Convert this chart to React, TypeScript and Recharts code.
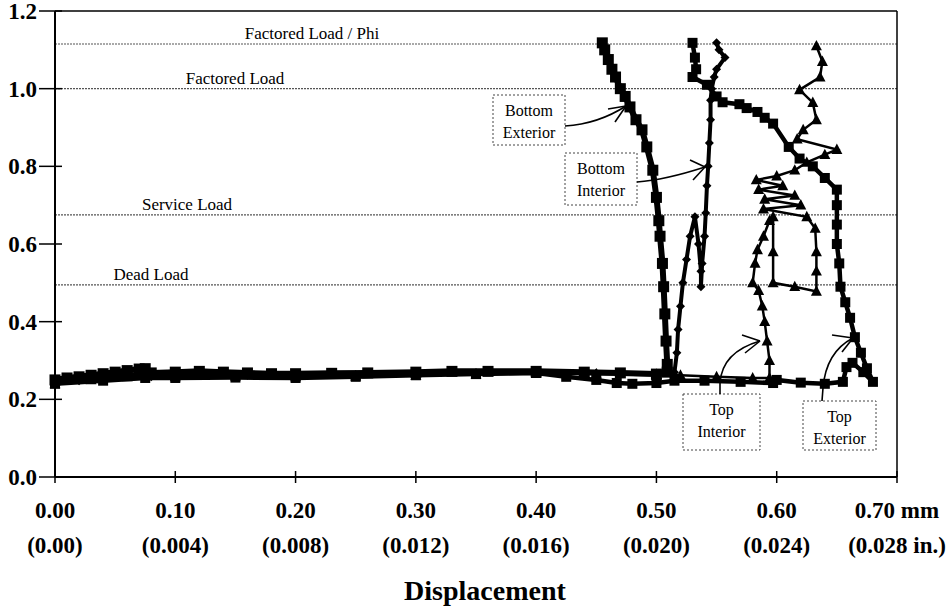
import React from 'react';
import { ScatterChart, Scatter, XAxis, YAxis, ReferenceLine } from 'recharts';

type Pt = [number, number];

// displacement (mm) vs normalised load
const bottomExterior: Pt[] = [
  [0, 0.25], [0.01, 0.255], [0.02, 0.258], [0.03, 0.262], [0.04, 0.266], [0.05, 0.27], [0.06, 0.274],
  [0.07, 0.278], [0.075, 0.279], [0.08, 0.268], [0.1, 0.27], [0.12, 0.272], [0.14, 0.27], [0.16, 0.268],
  [0.18, 0.266], [0.2, 0.266], [0.23, 0.267], [0.26, 0.268], [0.3, 0.27], [0.33, 0.272], [0.36, 0.272],
  [0.4, 0.272], [0.44, 0.27], [0.47, 0.268], [0.5, 0.265], [0.509, 0.27], [0.509, 0.29], [0.508, 0.35],
  [0.507, 0.42], [0.506, 0.49], [0.505, 0.55], [0.503, 0.62], [0.502, 0.66], [0.5, 0.72], [0.497, 0.79],
  [0.492, 0.85], [0.488, 0.894], [0.483, 0.92], [0.478, 0.953], [0.474, 0.98], [0.47, 1.0], [0.466, 1.03],
  [0.463, 1.05], [0.46, 1.075], [0.457, 1.1], [0.455, 1.118],
];

const bottomInterior: Pt[] = [
  [0, 0.242], [0.02, 0.248], [0.04, 0.255], [0.06, 0.262], [0.075, 0.268], [0.08, 0.258], [0.12, 0.262],
  [0.16, 0.262], [0.2, 0.26], [0.25, 0.262], [0.3, 0.265], [0.35, 0.268], [0.4, 0.268], [0.45, 0.268],
  [0.5, 0.268], [0.515, 0.27], [0.517, 0.32], [0.518, 0.38], [0.52, 0.44], [0.522, 0.5], [0.525, 0.56],
  [0.528, 0.62], [0.532, 0.67], [0.535, 0.6], [0.537, 0.53], [0.537, 0.49], [0.538, 0.55], [0.54, 0.62],
  [0.541, 0.68], [0.542, 0.75], [0.543, 0.8], [0.544, 0.86], [0.545, 0.92], [0.545, 0.97], [0.546, 1.0],
  [0.548, 1.03], [0.55, 1.05], [0.557, 1.08], [0.552, 1.1], [0.55, 1.118],
];

const topInterior: Pt[] = [
  [0, 0.24], [0.03, 0.25], [0.06, 0.258], [0.075, 0.262], [0.1, 0.258], [0.15, 0.26], [0.2, 0.258],
  [0.25, 0.26], [0.3, 0.262], [0.35, 0.265], [0.4, 0.266], [0.45, 0.265], [0.5, 0.262], [0.52, 0.262],
  [0.55, 0.258], [0.58, 0.255], [0.594, 0.255], [0.594, 0.3], [0.592, 0.35], [0.59, 0.4], [0.588, 0.44],
  [0.585, 0.48], [0.58, 0.5], [0.582, 0.55], [0.584, 0.585], [0.589, 0.62], [0.594, 0.66], [0.597, 0.67],
  [0.597, 0.58], [0.597, 0.5], [0.615, 0.49], [0.633, 0.478], [0.633, 0.53], [0.633, 0.58], [0.632, 0.64],
  [0.625, 0.67], [0.589, 0.69], [0.62, 0.7], [0.59, 0.715], [0.615, 0.725], [0.585, 0.74], [0.605, 0.75],
  [0.583, 0.765], [0.6, 0.775], [0.615, 0.79], [0.625, 0.81], [0.64, 0.83], [0.65, 0.843], [0.617, 0.87],
  [0.622, 0.894], [0.633, 0.92], [0.63, 0.964], [0.619, 0.997], [0.636, 1.03], [0.638, 1.07], [0.633, 1.11],
];

const topExterior: Pt[] = [
  [0, 0.24], [0.04, 0.248], [0.075, 0.255], [0.1, 0.255], [0.15, 0.256], [0.2, 0.255], [0.25, 0.258],
  [0.3, 0.262], [0.35, 0.265], [0.4, 0.268], [0.425, 0.258], [0.45, 0.25], [0.467, 0.242], [0.48, 0.24],
  [0.5, 0.242], [0.515, 0.248], [0.54, 0.248], [0.57, 0.245], [0.597, 0.242], [0.6, 0.25], [0.62, 0.243],
  [0.64, 0.24], [0.655, 0.245], [0.658, 0.283], [0.663, 0.294], [0.672, 0.27], [0.68, 0.245], [0.675, 0.28],
  [0.67, 0.32], [0.665, 0.36], [0.661, 0.41], [0.657, 0.45], [0.653, 0.49], [0.652, 0.55], [0.65, 0.6],
  [0.65, 0.65], [0.65, 0.7], [0.65, 0.74], [0.64, 0.77], [0.63, 0.8], [0.619, 0.82], [0.61, 0.85],
  [0.597, 0.91], [0.59, 0.925], [0.584, 0.94], [0.575, 0.95], [0.569, 0.96], [0.555, 0.965], [0.55, 0.98],
  [0.542, 1.01], [0.53, 1.03], [0.533, 1.05], [0.532, 1.08], [0.53, 1.118],
];

const xTicks = [0, 0.1, 0.2, 0.3, 0.4, 0.5, 0.6, 0.7];
const xTickMm = ['0.00', '0.10', '0.20', '0.30', '0.40', '0.50', '0.60', '0.70 mm'];
const xTickIn = ['(0.00)', '(0.004)', '(0.008)', '(0.012)', '(0.016)', '(0.020)', '(0.024)', '(0.028 in.)'];
const yTicks = [0, 0.2, 0.4, 0.6, 0.8, 1.0, 1.2];

const loadLevels = [1.115, 1.0, 0.675, 0.495];
const loadNames = ['Factored Load / Phi', 'Factored Load', 'Service Load', 'Dead Load'];

const SERIF = "'Liberation Serif', 'Times New Roman', serif";
const labelCenters = [312, 235, 187, 151];

const toRows = (pts: Pt[]) => pts.map(([x, y]) => ({ x, y }));

function makeMarker(kind: string, s: number) {
  return (props: any) => {
    const { cx, cy } = props;
    if (cx == null || cy == null) return <g />;
    const h = s / 2;
    if (kind === 'square') return <rect x={cx - h} y={cy - h} width={s} height={s} fill="#000" />;
    if (kind === 'diamond')
      return <polygon points={`${cx},${cy - h} ${cx + h},${cy} ${cx},${cy + h} ${cx - h},${cy}`} fill="#000" />;
    return (
      <polygon points={`${cx},${cy - h * 1.1} ${cx + h},${cy + h * 0.8} ${cx - h},${cy + h * 0.8}`} fill="#000" />
    );
  };
}

const XTick = ({ x, y, payload, index }: any) => (
  <g>
    <line x1={x} x2={x} y1={y - 14} y2={y - 2} stroke="#000" strokeWidth={1.5} />
    <text x={x} y={y + 33} textAnchor="middle" fontFamily={SERIF} fontWeight="bold" fontSize={23} fill="#000">
      {xTickMm[index] ?? payload.value}
    </text>
    <text x={x} y={y + 68} textAnchor="middle" fontFamily={SERIF} fontWeight="bold" fontSize={23} fill="#000">
      {xTickIn[index]}
    </text>
  </g>
);

const YTick = ({ x, y, payload }: any) => (
  <g>
    <line x1={x - 8} x2={x + 15} y1={y} y2={y} stroke="#000" strokeWidth={1.5} />
    <text x={x - 10} y={y + 8} textAnchor="end" fontFamily={SERIF} fontWeight="bold" fontSize={23} fill="#000">
      {payload.value.toFixed(1)}
    </text>
  </g>
);

const LoadLabel = ({ viewBox, text, cx }: any) => (
  <text x={cx} y={viewBox.y - 5} textAnchor="middle" fontFamily={SERIF} fontSize={17} fill="#000">
    {text}
  </text>
);

function Arrow({ d, tip, barbs }: { d: string; tip: [number, number]; barbs: [number, number][] }) {
  return (
    <g fill="none" stroke="#000" strokeWidth={1.6}>
      <path d={d} />
      {barbs.map((b, i) => (
        <line key={i} x1={tip[0]} y1={tip[1]} x2={b[0]} y2={b[1]} />
      ))}
    </g>
  );
}

function NoteBox({ x, y, w, h, lines }: { x: number; y: number; w: number; h: number; lines: string[] }) {
  return (
    <g>
      <rect x={x} y={y} width={w} height={h} fill="#fff" stroke="#444" strokeWidth={1} strokeDasharray="2 2" />
      {lines.map((t, i) => (
        <text key={t} x={x + w / 2} y={y + 21 + i * 22} textAnchor="middle" fontFamily={SERIF} fontSize={16} fill="#000">
          {t}
        </text>
      ))}
    </g>
  );
}

export default function App() {
  return (
    <div style={{ position: 'absolute', left: 0, top: 0, width: 946, height: 609, background: '#fff' }}>
      <ScatterChart width={946} height={609} margin={{ top: 11, right: 49, bottom: 0, left: 0 }}>
        <XAxis
          type="number"
          dataKey="x"
          domain={[0, 0.7]}
          ticks={xTicks}
          interval={0}
          height={132}
          axisLine={{ stroke: '#000', strokeWidth: 2 }}
          tickLine={false}
          tick={<XTick />}
        />
        <YAxis
          type="number"
          dataKey="y"
          domain={[0, 1.2]}
          ticks={yTicks}
          interval={0}
          width={55}
          axisLine={{ stroke: '#000', strokeWidth: 2 }}
          tickLine={false}
          tick={<YTick />}
        />
        {loadLevels.map((v, i) => (
          <ReferenceLine
            key={loadNames[i]}
            y={v}
            stroke="#555"
            strokeWidth={1.2}
            strokeDasharray="2 1"
            label={<LoadLabel text={loadNames[i]} cx={labelCenters[i]} />}
          />
        ))}
        <ReferenceLine y={1.2} stroke="#000" strokeWidth={1.5} />
        <ReferenceLine x={0.7} stroke="#000" strokeWidth={1.5} />
        <Scatter
          name="Bottom Exterior"
          data={toRows(bottomExterior)}
          line={{ stroke: '#000', strokeWidth: 6 }}
          lineType="joint"
          shape={makeMarker('square', 11)}
          isAnimationActive={false}
        />
        <Scatter
          name="Bottom Interior"
          data={toRows(bottomInterior)}
          line={{ stroke: '#000', strokeWidth: 4 }}
          lineType="joint"
          shape={makeMarker('diamond', 9)}
          isAnimationActive={false}
        />
        <Scatter
          name="Top Interior"
          data={toRows(topInterior)}
          line={{ stroke: '#000', strokeWidth: 2.5 }}
          lineType="joint"
          shape={makeMarker('triangle', 11)}
          isAnimationActive={false}
        />
        <Scatter
          name="Top Exterior"
          data={toRows(topExterior)}
          line={{ stroke: '#000', strokeWidth: 4.5 }}
          lineType="joint"
          shape={makeMarker('square', 10)}
          isAnimationActive={false}
        />
      </ScatterChart>

      <svg width={946} height={609} style={{ position: 'absolute', left: 0, top: 0, pointerEvents: 'none' }}>
        <NoteBox x={493} y={95} w={72} h={50} lines={['Bottom', 'Exterior']} />
        <Arrow d="M565,126 Q598,124 626,106" tip={[626, 106]} barbs={[[608, 109], [615, 122]]} />
        <NoteBox x={565} y={153} w={72} h={52} lines={['Bottom', 'Interior']} />
        <Arrow d="M637,182 Q665,180 705,167" tip={[705, 167]} barbs={[[690, 160], [693, 180]]} />
        <NoteBox x={683} y={394} w={77} h={56} lines={['Top', 'Interior']} />
        <Arrow d="M720,394 L720,383 Q722,352 760,341" tip={[760, 341]} barbs={[[742, 335], [745, 353]]} />
        <NoteBox x={803} y={401} w={73} h={49} lines={['Top', 'Exterior']} />
        <Arrow d="M822,401 L823,388 Q826,352 853,338" tip={[853, 338]} barbs={[[832, 335], [842, 352]]} />
        <text x={485} y={600} textAnchor="middle" fontFamily={SERIF} fontWeight="bold" fontSize={28} fill="#000">
          Displacement
        </text>
      </svg>
    </div>
  );
}
